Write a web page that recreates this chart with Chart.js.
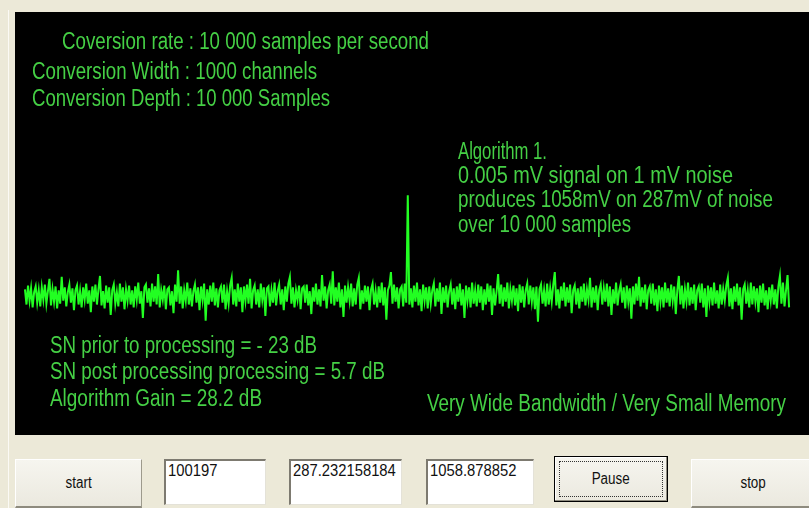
<!DOCTYPE html>
<html>
<head>
<meta charset="utf-8">
<script src="https://cdn.jsdelivr.net/npm/chart.js@4"></script>
<style>
  body { margin: 0; width: 809px; height: 508px; overflow: hidden; background: #ECE9D8; position: relative; font-family: "Liberation Sans", Arial, sans-serif; }
  #edge { position: absolute; left: 8px; top: 10px; width: 1px; height: 498px; background: #fbfaf5; }
  #panel { position: absolute; left: 15px; top: 12px; width: 794px; height: 423px; background: #000; }
  .btn { position: absolute; box-sizing: border-box; background: linear-gradient(#f6f5ef, #ebe9df); border-top: 1px solid #fff; border-left: 1px solid #fff; border-right: 1px solid #9d9a8c; border-bottom: 2px solid #8e8b7e; font-size: 16px; color: #111; display: flex; align-items: center; justify-content: center; }
  .btn span { display: inline-block; transform: scaleX(0.84); }
  .box { position: absolute; box-sizing: border-box; background: #fff; border-top: 2px solid #7d7a70; border-left: 2px solid #7d7a70; border-right: 1px solid #e4e2d8; border-bottom: 1px solid #e4e2d8; font-size: 17px; color: #111; padding: 0 0 0 2px; white-space: nowrap; }
  .box span { display: inline-block; transform: scaleX(0.87); transform-origin: left; }
  #pause { border: 1px solid #000; background: linear-gradient(#f6f5ef, #ebe9df); box-shadow: inset -1px -1px 0 #8e8b7e, inset 1px 1px 0 #fff; }
  #pause .focus { position: absolute; left: 4px; top: 4px; right: 4px; bottom: 4px; border: 1px dotted #333; }
</style>
</head>
<body>
<div id="edge"></div>
<div id="panel"><canvas id="scope" width="794" height="423"></canvas></div>
<div id="controls"></div>
<script>
// one sweep, 1000 channels, drawn every 2nd channel (mV)
const channelStep = 2;
const signalMv = [
  70, -90, 110, -50, 80, -120, 40, 100, -70, 60,
  -110, 90, -40, 120, -80, 50, 180, -100, 70, -60,
  100, -130, 60, -80, 200, -50, 90, -110, 40, 120,
  -70, 80, -150, 60, 110, -90, 50, -120, 90, -40,
  130, -80, 60, -170, 100, -60, 120, -90, 70, 210,
  -100, 50, -130, 110, -70, 90, -200, 60, 120, -80,
  40, -110, 130, -60, 90, -140, 70, -50, 110, -90,
  60, -120, 100, -40, 140, -80, 50, -230, 90, 120,
  -70, 80, -110, 130, -60, 100, -90, 230, -120, 60,
  -40, 110, -140, 70, 90, -100, 50, -180, 120, -60,
  270, -80, 100, -130, 60, -50, 140, -90, 80, -110,
  50, 120, -70, 90, -150, 100, -40, 130, -260, 70,
  -90, 110, -60, 140, -100, 80, -120, 60, 100, -70,
  120, -140, 50, -80, 110, 190, -90, 70, -110, 130,
  -60, 90, -170, 100, -50, 120, -80, 180, -130, 60,
  110, -90, 70, -120, 130, -40, 90, -210, 80, 100,
  -110, 60, -70, 140, -100, 50, 120, -90, 70, -150,
  100, -60, 130, 200, -80, 90, -120, 60, -40, 110,
  -140, 80, 100, -70, 120, -100, 50, -190, 90, -60,
  130, -90, 70, -110, 220, -50, 100, -130, 60, 120,
  -80, 260, -100, 90, -60, 140, -120, 70, -220, 110,
  -70, 90, -50, 130, -110, 80, -90, 120, 190, -140,
  60, -80, 110, -60, 100, -150, 70, 130, -90, 50,
  -120, 100, -70, 140, -100, 90, -250, 60, 110, 250,
  -80, 120, -60, 90, -130, 70, 100, -110, 130, -70,
  1058, -90, 80, -120, 110, -60, 140, -100, 70, -160,
  120, -50, 90, -130, 100, -80, 60, 130, -110, 80,
  -60, 140, -190, 90, -70, 110, -120, 50, 120, -90,
  80, -140, 100, -60, 130, -100, 70, -230, 110, -50,
  90, -120, 140, -80, 60, -110, 120, -70, 100, -150,
  70, -90, 130, -60, 110, -200, 80, -100, 50, 230,
  -80, 120, -110, 90, -60, 140, -130, 70, -50, 110,
  -100, 80, -160, 120, -70, 100, -120, 60, 130, -90,
  110, -60, 90, -140, 100, -270, 70, 120, -80, 60,
  -110, 130, -90, 80, -60, 120, 250, -100, 70, -130,
  100, -50, 140, -110, 90, -70, 120, -180, 60, 110,
  -90, 80, -130, 100, -60, 130, -100, 70, -40, 190,
  -120, 90, -70, 110, -150, 60, 120, -90, 80, -60,
  130, -110, 100, -200, 70, -80, 140, -100, 50, 120,
  -70, 90, -130, 110, -60, 80, -240, 100, -90, 130,
  -50, 200, -110, 90, -70, 120, -140, 60, 100, -80,
  130, -100, 70, -160, 110, -60, 90, -120, 140, -70,
  80, -110, 120, -50, 100, -190, 60, 210, -90, 110,
  -130, 70, -60, 140, -100, 90, -80, 120, -150, 60,
  100, -70, 130, -120, 80, -220, 110, -60, 90, -100,
  140, -80, 60, -130, 120, -90, 70, -50, 110, 190,
  -110, 80, -140, 100, -60, 130, -100, 90, -250, 70,
  120, -80, 60, -120, 140, -90, 100, -60, 80, -170,
  110, -70, 130, -100, 60, -140, 90, -50, 120, -90,
  70, -130, 100, 210, -80, 140, -110, 60, 220, -120
];

const infoLines = [
  'Coversion rate : 10 000 samples per second',
  'Conversion Width : 1000 channels',
  'Conversion Depth : 10 000 Samples'
];
const algoLines = [
  'Algorithm 1.',
  '0.005 mV signal on 1 mV noise',
  'produces 1058mV on 287mV of noise',
  'over 10 000 samples'
];
const snLines = [
  'SN prior to processing = - 23 dB',
  'SN post processing processing = 5.7 dB',
  'Algorithm Gain = 28.2 dB'
];
const footer = 'Very Wide Bandwidth / Very Small Memory';
const boxValues = ['100197', '287.232158184', '1058.878852'];
const buttonLabels = ['start', 'Pause', 'stop'];

// text drawn squeezed to the width it has on screen
function fitText(ctx, txt, x, y, w) {
  const m = ctx.measureText(txt).width;
  ctx.save();
  ctx.translate(x, y);
  ctx.scale(w / m, 1);
  ctx.fillText(txt, 0, 0);
  ctx.restore();
}

const labelsPlugin = {
  id: 'labels',
  afterDraw(chart) {
    const ctx = chart.ctx;
    ctx.save();
    ctx.fillStyle = '#45d045';
    ctx.font = '23px "Liberation Sans", Arial, sans-serif';
    ctx.textBaseline = 'middle';
    const infoX = [47, 17, 17], infoY = [31, 61, 88], infoW = [367, 285, 298];
    infoLines.forEach((t, i) => fitText(ctx, t, infoX[i], infoY[i], infoW[i]));
    const algoY = [141, 165, 189, 214], algoW = [89, 275, 315, 173];
    algoLines.forEach((t, i) => fitText(ctx, t, 443, algoY[i], algoW[i]));
    const snY = [335, 361, 388], snW = [267, 335, 212];
    snLines.forEach((t, i) => fitText(ctx, t, 35, snY[i], snW[i]));
    fitText(ctx, footer, 412, 393, 359);
    ctx.restore();
  }
};

const points = signalMv.map((v, i) => ({ x: i * channelStep, y: v }));

new Chart(document.getElementById('scope').getContext('2d'), {
  type: 'line',
  data: {
    datasets: [{
      data: points,
      borderColor: '#22ff22',
      borderWidth: 2,
      pointRadius: 0,
      tension: 0
    }]
  },
  options: {
    responsive: false,
    animation: false,
    layout: { padding: 0 },
    plugins: { legend: { display: false }, tooltip: { enabled: false } },
    scales: {
      x: { type: 'linear', display: false, min: -13, max: 1024 },
      y: { display: false, min: -1460, max: 2982 }
    }
  },
  plugins: [labelsPlugin]
});

// buttons and read-out boxes under the scope
const controls = document.getElementById('controls');
function addEl(cls, txt, left, top, w, h, id) {
  const d = document.createElement('div');
  d.className = cls;
  if (id) d.id = id;
  d.style.left = left + 'px';
  d.style.top = top + 'px';
  d.style.width = w + 'px';
  d.style.height = h + 'px';
  d.innerHTML = '<span>' + txt + '</span>' + (id === 'pause' ? '<div class="focus"></div>' : '');
  controls.appendChild(d);
}
addEl('btn', buttonLabels[0], 15, 459, 127, 49);
addEl('box', boxValues[0], 164, 459, 102, 46);
addEl('box', boxValues[1], 289, 459, 113, 46);
addEl('box', boxValues[2], 426, 459, 108, 46);
addEl('btn', buttonLabels[1], 554, 456, 114, 46, 'pause');
addEl('btn', buttonLabels[2], 691, 459, 125, 49);
</script>
</body>
</html>
